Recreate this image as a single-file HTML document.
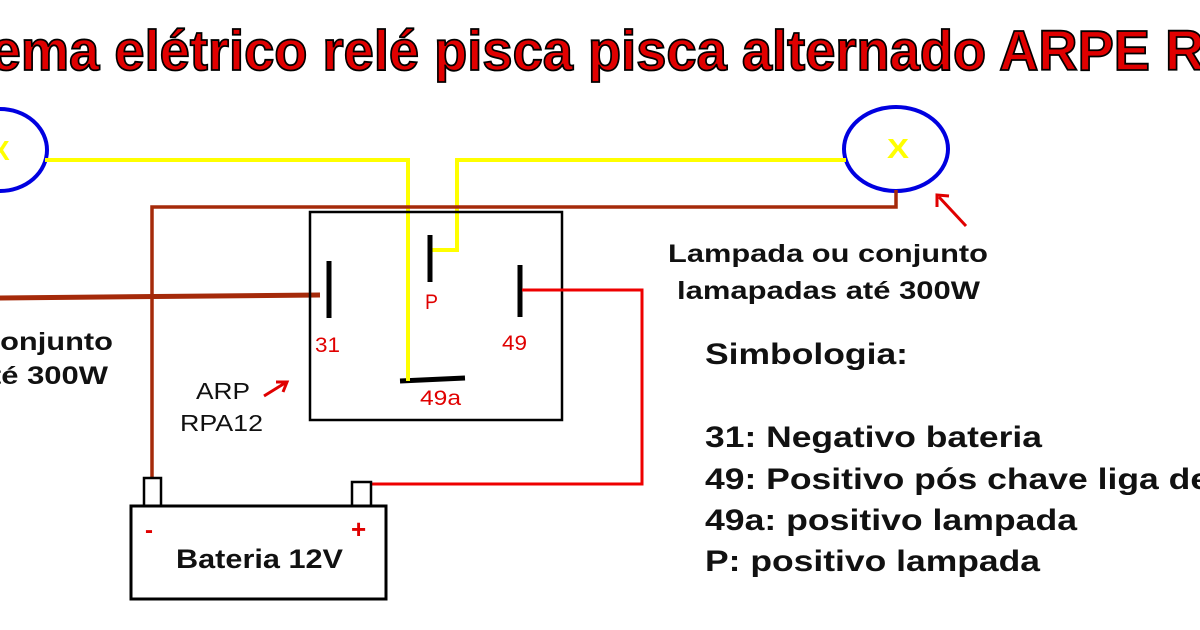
<!DOCTYPE html>
<html><head><meta charset="utf-8"><style>
html,body{margin:0;padding:0;background:#fff;width:1200px;height:630px;overflow:hidden}
svg{display:block}
text{font-family:"Liberation Sans",Arial,sans-serif}
</style></head><body>
<svg width="1200" height="630" viewBox="0 0 1200 630" xmlns="http://www.w3.org/2000/svg">
<g transform="translate(0,70) scale(1,1.2)">
<text x="-142" y="0" font-size="47" font-weight="bold" fill="#e00000" stroke="#000" stroke-width="1.5" textLength="1478" lengthAdjust="spacingAndGlyphs">Esquema elétrico relé pisca pisca alternado ARPE RPA12</text>
</g>
<!-- lamps -->
<ellipse cx="0" cy="150" rx="47" ry="41" fill="none" stroke="#0000e0" stroke-width="4"/>
<text x="-9" y="160" font-size="28" font-weight="bold" fill="#ffff00">X</text>
<ellipse cx="896" cy="149" rx="52" ry="42" fill="none" stroke="#0000e0" stroke-width="4"/>
<text x="887" y="158" font-size="28" font-weight="bold" fill="#ffff00" textLength="22" lengthAdjust="spacingAndGlyphs">X</text>
<!-- yellow wires -->
<polyline points="45,160 408,160 408,382" fill="none" stroke="#ffff00" stroke-width="4"/>
<polyline points="846,160 457,160 457,250 432,250" fill="none" stroke="#ffff00" stroke-width="4"/>
<!-- brown wires -->
<polyline points="896,190 896,207 152,207 152,478" fill="none" stroke="#a52a0a" stroke-width="3.5"/>
<line x1="0" y1="298" x2="320" y2="295" stroke="#a52a0a" stroke-width="5"/>
<!-- relay box -->
<rect x="310" y="212" width="252" height="208" fill="none" stroke="#000" stroke-width="2.5"/>
<line x1="329" y1="261" x2="329" y2="318" stroke="#000" stroke-width="5"/>
<line x1="430" y1="235" x2="430" y2="282" stroke="#000" stroke-width="5"/>
<line x1="520" y1="265" x2="520" y2="317" stroke="#000" stroke-width="5"/>
<line x1="400" y1="381" x2="465" y2="378" stroke="#000" stroke-width="5"/>
<line x1="408" y1="300" x2="408" y2="381" stroke="#ffff00" stroke-width="4"/>
<!-- red wire -->
<polyline points="522,290 642,290 642,484 370,484" fill="none" stroke="#ee0000" stroke-width="3"/>
<!-- labels in relay -->
<g font-size="21" fill="#e00000" lengthAdjust="spacingAndGlyphs">
<text x="315" y="352" textLength="25" lengthAdjust="spacingAndGlyphs">31</text>
<text x="425" y="309" textLength="13" lengthAdjust="spacingAndGlyphs">P</text>
<text x="502" y="350" textLength="25" lengthAdjust="spacingAndGlyphs">49</text>
<text x="420" y="405" textLength="41" lengthAdjust="spacingAndGlyphs">49a</text>
</g>
<!-- battery -->
<rect x="131" y="506" width="255" height="93" fill="none" stroke="#000" stroke-width="3"/>
<rect x="144" y="478" width="17" height="28" fill="none" stroke="#000" stroke-width="2.5"/>
<rect x="352" y="482" width="19" height="24" fill="none" stroke="#000" stroke-width="2.5"/>
<text x="145" y="538" font-size="24" font-weight="bold" fill="#e00000">-</text>
<text x="351" y="538" font-size="26" font-weight="bold" fill="#e00000">+</text>
<text x="176" y="568" font-size="27" font-weight="bold" fill="#111" textLength="167" lengthAdjust="spacingAndGlyphs">Bateria 12V</text>
<!-- ARP label -->
<text x="196" y="399" font-size="23" fill="#111" textLength="54" lengthAdjust="spacingAndGlyphs">ARP</text>
<text x="180" y="431" font-size="23" fill="#111" textLength="83" lengthAdjust="spacingAndGlyphs">RPA12</text>
<line x1="264" y1="396" x2="285" y2="383" stroke="#e00000" stroke-width="3"/>
<polyline points="276,382 287,382 283,392" fill="none" stroke="#e00000" stroke-width="3"/>
<!-- right arrow -->
<line x1="966" y1="226" x2="939" y2="197" stroke="#e00000" stroke-width="3"/>
<polyline points="937,207 937,195 949,196" fill="none" stroke="#e00000" stroke-width="3"/>
<!-- lamp labels -->
<g font-size="25" font-weight="bold" fill="#111">
<text x="668" y="262" textLength="320" lengthAdjust="spacingAndGlyphs">Lampada ou conjunto</text>
<text x="677" y="299" textLength="303" lengthAdjust="spacingAndGlyphs">lamapadas até 300W</text>
<text x="-207" y="350" textLength="320" lengthAdjust="spacingAndGlyphs">Lampada ou conjunto</text>
<text x="-195" y="384" textLength="303" lengthAdjust="spacingAndGlyphs">lamapadas até 300W</text>
</g>
<!-- simbologia -->
<g font-size="30" font-weight="bold" fill="#111">
<text x="705" y="364" textLength="203" lengthAdjust="spacingAndGlyphs">Simbologia:</text>
<text x="705" y="447" textLength="337" lengthAdjust="spacingAndGlyphs">31: Negativo bateria</text>
<text x="705" y="489" textLength="586" lengthAdjust="spacingAndGlyphs">49: Positivo pós chave liga desliga</text>
<text x="705" y="530" textLength="372" lengthAdjust="spacingAndGlyphs">49a: positivo lampada</text>
<text x="705" y="571" textLength="335" lengthAdjust="spacingAndGlyphs">P: positivo lampada</text>
</g>
</svg>
</body></html>
